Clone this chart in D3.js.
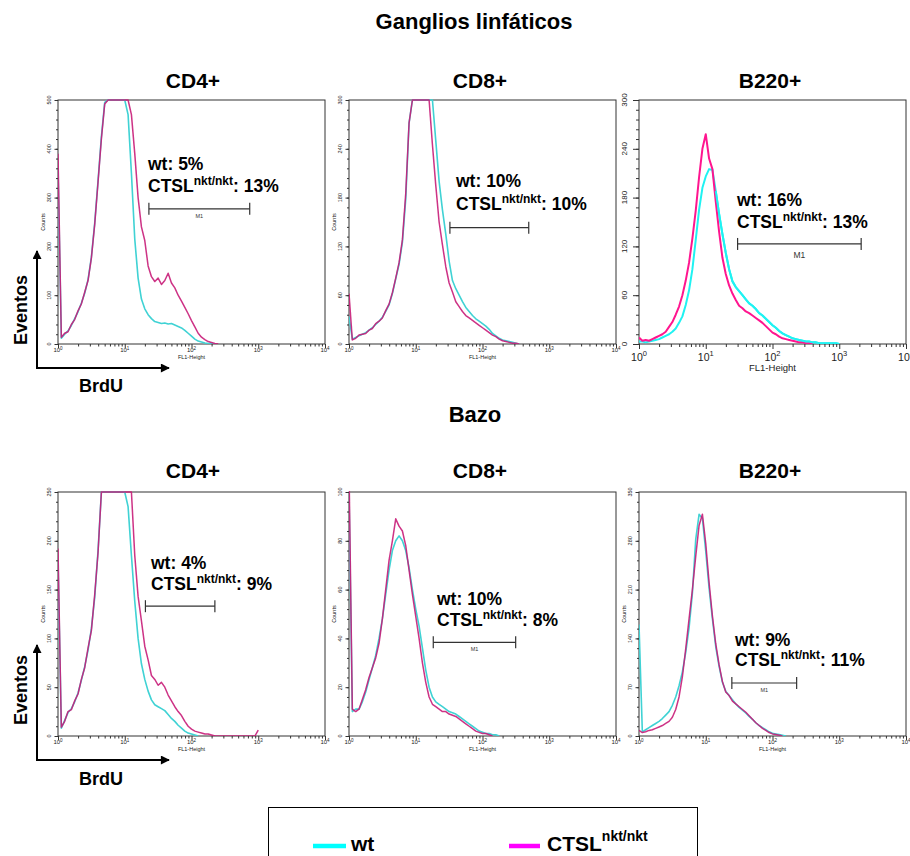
<!DOCTYPE html>
<html>
<head>
<meta charset="utf-8">
<script src="https://cdn.jsdelivr.net/npm/d3@7"></script>
<style>
  body { margin: 0; background: #fff; }
  svg { display: block; }
  text { font-family: "Liberation Sans", Arial, Helvetica, sans-serif; }
</style>
</head>
<body>
<svg id="chart" width="910" height="856"></svg>
<script>
// FL1 channel positions, as log10 of FL1-Height (10^0 .. 10^3)
const channels = [0,0.05,0.1,0.15,0.2,0.25,0.3,0.35,0.4,0.45,0.5,0.55,0.6,0.65,0.7,0.75,0.8,0.85,0.9,0.95,
  1,1.05,1.1,1.15,1.2,1.25,1.3,1.35,1.4,1.45,1.5,1.55,1.6,1.65,1.7,1.75,1.8,1.85,1.9,1.95,
  2,2.05,2.1,2.15,2.2,2.25,2.3,2.35,2.4,2.45,2.5,2.55,2.6,2.65,2.7,2.75,2.8,2.85,2.9,2.95,3];

const xTickValues = [1, 10, 100, 1000, 10000];
const xTickExponents = ["0", "1", "2", "3", "4"];

// Ganglios linfáticos — event counts per channel
const lnCD4Wt   = [360,12,20,27,38,52,66,84,104,132,178,248,335,425,495,500,500,500,500,500,500,470,350,215,135,92,72,60,52,46,44,42,43,41,42,39,36,33,28,22,16,10,6,4,2,1,1,0];
const lnCD4Ctsl = [390,14,22,25,40,50,68,82,106,130,176,245,332,420,492,500,500,500,500,500,500,500,470,390,300,240,212,160,138,128,135,122,130,145,125,115,100,88,75,62,48,35,22,14,9,5,3,1,0];
const lnCD8Wt   = [34,6,8,10,12,14,17,20,24,28,33,40,48,62,80,98,125,178,272,300,300,300,300,300,300,300,250,200,165,135,102,78,68,60,52,45,40,35,31,28,25,22,18,13,10,7,5,4,3,2,1,0];
const lnCD8Ctsl = [62,5,7,11,12,13,17,19,25,28,32,41,49,63,81,100,128,185,272,300,300,300,300,300,300,245,195,150,122,95,75,64,52,46,40,35,32,29,26,23,20,17,14,11,9,6,4,3,2,1,1,0];
const lnB220Wt   = [3,3,2,3,4,5,6,8,10,12,15,19,26,34,48,66,92,128,165,192,206,215,214,188,160,135,112,92,77,70,65,60,55,50,47,43,38,35,31,27,23,20,16,13,11,9,7,6,5,4,3,3,2,2,1,1,1,1,1,1,0];
const lnB220Ctsl = [8,4,5,4,6,8,10,12,15,21,27,36,46,60,78,100,130,164,205,240,258,228,215,175,138,106,86,72,62,54,47,44,40,38,35,32,29,26,22,18,14,12,9,7,6,5,4,3,2,2,1,1,0];

// Bazo — event counts per channel
const spCD4Wt   = [180,8,16,24,28,35,44,57,71,88,110,142,190,250,250,250,250,250,250,250,250,235,185,138,100,74,58,46,37,32,30,28,26,22,18,15,11,8,5,3,2,1,0];
const spCD4Ctsl = [192,9,15,25,27,36,43,58,70,90,108,145,188,250,250,250,250,250,250,250,250,250,250,185,143,118,92,78,62,58,52,55,50,42,36,30,25,21,15,10,7,5,4,3,2,2,1,0,0,0,0,0,0,0,0,0,0,0,0,0,6];
const spCD8Wt   = [100,10,11,11,14,18,23,28,33,40,48,58,68,76,80,82,80,76,69,60,52,45,36,27,20,16,14,13,12,11,10,9.5,9,8,7,6,5,4,3,2,1.5,1,1,0.5,0.5,0];
const spCD8Ctsl = [110,11,10,11,15,19,24,28,32,38,48,60,72,80,89,86,84,78,68,58,49,40,30,22,16,13,12,11,10,10,9,8.5,8,7,6,5,4,3,2,1.5,1,1,0.5,0];
const spB220Wt   = [160,6,9,12,15,18,21,25,30,35,44,56,72,92,120,155,205,282,318,312,265,212,168,128,100,77,64,58,52,46,41,37,33,28,24,19,15,12,9,6,4,3,2,1,0];
const spB220Ctsl = [8,5,6,8,9,11,13,15,18,21,27,38,56,85,125,168,210,258,302,318,276,220,172,132,102,78,63,58,50,46,42,38,34,29,24,19,15,11,8,5,3,2,1,0];

// Percent of cells inside the M1 gate
const wtPercent   = ["5%", "10%", "16%", "4%", "10%", "9%"];
const ctslPercent = ["13%", "10%", "13%", "9%", "8%", "11%"];
// M1 gate: [from, to] on FL1-Height, drawn at a count level
const gateFrom  = [23, 32.5, 30, 20.4, 18.3, 24.6];
const gateTo    = [745, 493, 2130, 224, 314, 230];
const gateLevel = [277, 143, 123, 133, 38.4, 76];

const populations = ["CD4+", "CD8+", "B220+"];
const yMaxes  = [500, 300, 300, 250, 100, 350];
const ySteps  = [100, 60, 60, 50, 20, 70];

const WT_COLOR = "#00ffff", CTSL_COLOR = "#ff00ff";

const svg = d3.select("#chart");
const colLeft = [58, 349, 639], rowTop = [100, 492];
const plotW = 267, plotH = 244;

const defs = svg.append("defs");
defs.append("filter").attr("id", "soft").attr("x", "-5%").attr("y", "-5%").attr("width", "110%").attr("height", "110%")
  .append("feGaussianBlur").attr("stdDeviation", 0.45);
defs.append("marker").attr("id", "arrow").attr("viewBox", "0 0 10 10")
  .attr("refX", 9).attr("refY", 5).attr("markerWidth", 10).attr("markerHeight", 9)
  .attr("markerUnits", "userSpaceOnUse").attr("orient", "auto")
  .append("path").attr("d", "M0,0L10,5L0,10Z").attr("fill", "#000");

const panels = [
  { row: 0, col: 0, wt: lnCD4Wt,  ctsl: lnCD4Ctsl,  note: [90, 70, 92],   gateLabel: true },
  { row: 0, col: 1, wt: lnCD8Wt,  ctsl: lnCD8Ctsl,  note: [107, 87, 110], gateLabel: false },
  { row: 0, col: 2, wt: lnB220Wt, ctsl: lnB220Ctsl, note: [98, 106, 128], gateLabel: true, crisp: true },
  { row: 1, col: 0, wt: spCD4Wt,  ctsl: spCD4Ctsl,  note: [93, 77, 98],   gateLabel: false },
  { row: 1, col: 1, wt: spCD8Wt,  ctsl: spCD8Ctsl,  note: [88, 113, 134], gateLabel: true },
  { row: 1, col: 2, wt: spB220Wt, ctsl: spB220Ctsl, note: [96, 154, 174], gateLabel: true }
];

// Section and population titles
svg.append("text").attr("x", 474).attr("y", 29).attr("text-anchor", "middle")
  .attr("font-size", 22).attr("font-weight", "bold").text("Ganglios linfáticos");
svg.append("text").attr("x", 475).attr("y", 422).attr("text-anchor", "middle")
  .attr("font-size", 22).attr("font-weight", "bold").text("Bazo");
[88, 478].forEach(y => {
  [193, 480, 770].forEach((cx, i) => {
    svg.append("text").attr("x", cx).attr("y", y).attr("text-anchor", "middle")
      .attr("font-size", 21).attr("font-weight", "bold").text(populations[i]);
  });
});

// Axis arrows "Eventos" / "BrdU" for each row
[{ y0: 368, top: 251, ey: 310, by: 392 }, { y0: 760, top: 645, ey: 690, by: 785 }].forEach(a => {
  svg.append("line").attr("x1", 37).attr("y1", a.y0 + 1).attr("x2", 37).attr("y2", a.top)
    .attr("stroke", "#000").attr("stroke-width", 2).attr("marker-end", "url(#arrow)");
  svg.append("line").attr("x1", 36).attr("y1", a.y0).attr("x2", 169).attr("y2", a.y0)
    .attr("stroke", "#000").attr("stroke-width", 2).attr("marker-end", "url(#arrow)");
  svg.append("text").attr("transform", `translate(27,${a.ey}) rotate(-90)`).attr("text-anchor", "middle")
    .attr("font-size", 18).attr("font-weight", "bold").text("Eventos");
  svg.append("text").attr("x", 101).attr("y", a.by).attr("text-anchor", "middle")
    .attr("font-size", 18).attr("font-weight", "bold").text("BrdU");
});

panels.forEach((p, i) => {
  const left = colLeft[p.col], top = rowTop[p.row];
  const g = svg.append("g").attr("transform", `translate(${left},${top})`);
  const x = d3.scaleLog().domain([1, 1e4]).range([0, plotW]);
  const y = d3.scaleLinear().domain([0, yMaxes[i]]).range([plotH, 0]);
  const crisp = !!p.crisp;

  // frame
  g.append("rect").attr("width", plotW).attr("height", plotH)
    .attr("fill", "#fff").attr("stroke", "#333").attr("stroke-width", 1);

  // x axis: log major + minor ticks below the frame
  const minor = [];
  for (let e = 0; e < 4; e++) for (let m = 2; m <= 9; m++) minor.push(m * Math.pow(10, e));
  const xMinor = g.append("g").attr("transform", `translate(0,${plotH})`)
    .call(d3.axisBottom(x).tickValues(minor).tickSize(crisp ? 3 : 2.5).tickFormat(""));
  const xMajor = g.append("g").attr("transform", `translate(0,${plotH})`)
    .call(d3.axisBottom(x).tickValues(xTickValues).tickSize(crisp ? 5 : 4).tickFormat(""));
  [xMinor, xMajor].forEach(a => { a.select(".domain").remove(); a.selectAll("line").attr("stroke", "#333"); });

  const lblSize = crisp ? 10.5 : 6, expSize = crisp ? 7.5 : 4.5;
  xTickValues.forEach((v, k) => {
    const t = g.append("text").attr("x", x(v)).attr("y", plotH + (crisp ? 17 : 8))
      .attr("text-anchor", "middle").attr("font-size", lblSize).attr("fill", "#222");
    t.append("tspan").text("10");
    t.append("tspan").attr("dy", crisp ? -5 : -2.5).attr("font-size", expSize).text(xTickExponents[k]);
  });
  g.append("text").attr("x", plotW / 2).attr("y", plotH + (crisp ? 27 : 15))
    .attr("text-anchor", "middle").attr("font-size", crisp ? 9.5 : 5.5).attr("fill", "#222").text("FL1-Height");

  // y axis: major + minor ticks to the left of the frame
  const yMajorVals = d3.range(0, yMaxes[i] + 0.001, ySteps[i]);
  const yMinorVals = d3.range(0, yMaxes[i] + 0.001, ySteps[i] / 5);
  const yMin = g.append("g").call(d3.axisLeft(y).tickValues(yMinorVals).tickSize(crisp ? 3 : 2).tickFormat(""));
  const yMaj = g.append("g").call(d3.axisLeft(y).tickValues(yMajorVals).tickSize(crisp ? 6 : 3.5).tickFormat(""));
  [yMin, yMaj].forEach(a => { a.select(".domain").remove(); a.selectAll("line").attr("stroke", "#333"); });
  yMajorVals.forEach(v => {
    g.append("text").attr("transform", `translate(${crisp ? -12 : -7},${y(v)}) rotate(-90)`)
      .attr("text-anchor", "middle").attr("font-size", crisp ? 8 : 5.5).attr("fill", "#222").text(v);
  });
  if (!crisp) {
    g.append("text").attr("transform", `translate(-13,${plotH / 2}) rotate(-90)`)
      .attr("text-anchor", "middle").attr("font-size", 5.5).attr("fill", "#222").text("Counts");
  }

  // histograms
  const clipId = `clip${i}`;
  defs.append("clipPath").attr("id", clipId).append("rect")
    .attr("x", 0).attr("y", -1).attr("width", plotW).attr("height", plotH + 1);
  const line = d3.line().x(d => x(Math.pow(10, d[0]))).y(d => y(d[1]));
  const pts = arr => arr.map((c, k) => [channels[k], c]);
  const lg = g.append("g").attr("clip-path", `url(#${clipId})`);
  const inner = crisp ? lg : lg.append("g").attr("filter", "url(#soft)");
  const wtCol = crisp ? "#1ff2f2" : "#3fd2d4";
  const koCol = crisp ? "#ff158f" : "#c81c78";
  inner.append("path").attr("d", line(pts(p.wt))).attr("fill", "none")
    .attr("stroke", wtCol).attr("stroke-width", crisp ? 2 : 1.6).attr("stroke-linejoin", "round");
  inner.append("path").attr("d", line(pts(p.ctsl))).attr("fill", "none")
    .attr("stroke", koCol).attr("stroke-width", crisp ? 2 : 1.5).attr("stroke-linejoin", "round")
    .attr("opacity", crisp ? 1 : 0.9);
  if (crisp) {
    // the wild-type trace sits on top in the tail
    inner.append("path").attr("d", line(pts(p.wt).filter(d => d[0] >= 1.15))).attr("fill", "none")
      .attr("stroke", wtCol).attr("stroke-width", 2);
  }

  // M1 gate marker
  const gy = y(gateLevel[i]), gx0 = x(gateFrom[i]), gx1 = x(gateTo[i]);
  const gc = "#333";
  g.append("line").attr("x1", gx0).attr("x2", gx1).attr("y1", gy).attr("y2", gy).attr("stroke", gc).attr("stroke-width", 1.2);
  [gx0, gx1].forEach(gx => g.append("line").attr("x1", gx).attr("x2", gx)
    .attr("y1", gy - 6).attr("y2", gy + 6).attr("stroke", gc).attr("stroke-width", 1.2));
  if (p.gateLabel) {
    g.append("text").attr("x", (gx0 + gx1) / 2).attr("y", gy + (crisp ? 14 : 9))
      .attr("text-anchor", "middle").attr("font-size", crisp ? 8.5 : 5.5).attr("fill", "#333").text("M1");
  }

  // percent annotations
  const [nx, ny1, ny2] = p.note;
  g.append("text").attr("x", nx).attr("y", ny1).attr("font-size", 17.5).attr("font-weight", "bold")
    .text(`wt: ${wtPercent[i]}`);
  const t2 = g.append("text").attr("x", nx).attr("y", ny2).attr("font-size", 17.5).attr("font-weight", "bold");
  t2.append("tspan").text("CTSL");
  t2.append("tspan").attr("dy", -7).attr("font-size", 12).text("nkt/nkt");
  t2.append("tspan").attr("dy", 7).text(`: ${ctslPercent[i]}`);
});

// legend
const lgd = svg.append("g");
lgd.append("rect").attr("x", 268.5).attr("y", 807.5).attr("width", 429).attr("height", 70)
  .attr("fill", "#fff").attr("stroke", "#000").attr("stroke-width", 1);
lgd.append("line").attr("x1", 313).attr("x2", 346).attr("y1", 846).attr("y2", 846)
  .attr("stroke", WT_COLOR).attr("stroke-width", 4.5);
lgd.append("text").attr("x", 351).attr("y", 851).attr("font-size", 21).attr("font-weight", "bold").text("wt");
lgd.append("line").attr("x1", 509).attr("x2", 540).attr("y1", 846).attr("y2", 846)
  .attr("stroke", CTSL_COLOR).attr("stroke-width", 4.5);
const lt = lgd.append("text").attr("x", 547).attr("y", 851).attr("font-size", 21).attr("font-weight", "bold");
lt.append("tspan").text("CTSL");
lt.append("tspan").attr("dy", -10).attr("font-size", 14).text("nkt/nkt");
</script>
</body>
</html>
